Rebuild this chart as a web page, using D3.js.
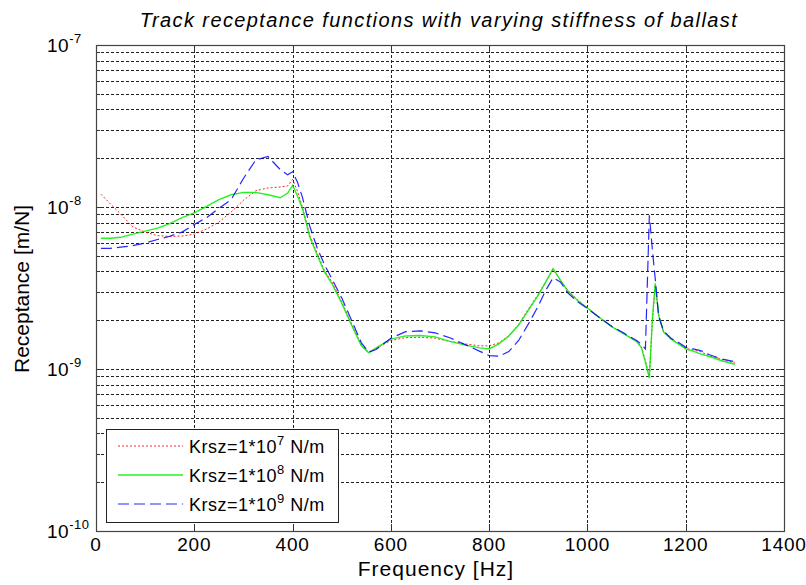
<!DOCTYPE html>
<html>
<head>
<meta charset="utf-8">
<script src="https://cdn.jsdelivr.net/npm/d3@7"></script>
<style>
	body { margin: 0; background: #fff; }
	text { font-family: Arial, "Liberation Sans", sans-serif; fill: #000; }
</style>
</head>
<body>
<div id="chart"></div>
<script>
// frequency points [Hz] shared by the three curves
var freq = [10, 30, 50, 75, 100, 125, 150, 175, 200, 225, 250, 275, 300, 325, 350, 375, 390, 400,
	410, 420, 435, 450, 465, 480, 500, 520, 540, 555, 570,
	600, 630, 660, 690, 720, 750, 780,
	800, 820, 840, 860, 880, 900, 915, 930, 945, 960, 980, 1000,
	1025, 1050, 1075, 1100, 1110, 1118, 1126, 1132, 1138, 1145, 1155, 1170, 1185, 1200,
	1215, 1230, 1250, 1275, 1300];

// Krsz = 1e7 N/m
var recK7 = [1.20e-8, 1.04e-8, 9.06e-9, 7.53e-9, 7.0e-9, 6.66e-9, 6.58e-9, 6.62e-9, 6.8e-9, 7.31e-9, 8.07e-9, 9.31e-9, 1.10e-8, 1.26e-8, 1.31e-8, 1.33e-8, 1.35e-8, 1.48e-8,
	1.25e-8, 1.0e-8, 6.7e-9, 5.2e-9, 4.05e-9, 3.45e-9, 2.6e-9, 1.9e-9, 1.41e-9, 1.27e-9, 1.34e-9,
	1.5e-9, 1.56e-9, 1.57e-9, 1.55e-9, 1.48e-9, 1.43e-9, 1.39e-9,
	1.39e-9, 1.45e-9, 1.6e-9, 1.88e-9, 2.35e-9, 2.9e-9, 3.45e-9, 4.1e-9, 3.55e-9, 3.05e-9, 2.67e-9, 2.39e-9,
	2.08e-9, 1.82e-9, 1.64e-9, 1.48e-9, 1.36e-9, 1.12e-9, 9.0e-10, 1.95e-9, 3.3e-9, 2.15e-9, 1.7e-9, 1.54e-9, 1.44e-9, 1.34e-9,
	1.31e-9, 1.28e-9, 1.2e-9, 1.14e-9, 1.09e-9];

// Krsz = 1e8 N/m
var recK8 = [6.41e-9, 6.41e-9, 6.5e-9, 6.8e-9, 7.1e-9, 7.4e-9, 7.9e-9, 8.6e-9, 9.2e-9, 1.01e-8, 1.11e-8, 1.19e-8, 1.23e-8, 1.23e-8, 1.19e-8, 1.14e-8, 1.22e-8, 1.36e-8,
	1.17e-8, 9.8e-9, 6.53e-9, 5.06e-9, 3.97e-9, 3.37e-9, 2.55e-9, 1.87e-9, 1.39e-9, 1.26e-9, 1.35e-9,
	1.53e-9, 1.60e-9, 1.61e-9, 1.58e-9, 1.48e-9, 1.41e-9, 1.35e-9,
	1.33e-9, 1.43e-9, 1.60e-9, 1.87e-9, 2.31e-9, 2.86e-9, 3.44e-9, 4.17e-9, 3.54e-9, 3.03e-9, 2.65e-9, 2.38e-9,
	2.07e-9, 1.82e-9, 1.64e-9, 1.48e-9, 1.35e-9, 1.10e-9, 8.8e-10, 2.0e-9, 3.38e-9, 2.15e-9, 1.69e-9, 1.53e-9, 1.43e-9, 1.33e-9,
	1.29e-9, 1.24e-9, 1.19e-9, 1.12e-9, 1.07e-9];

// Krsz = 1e9 N/m
var recK9 = [5.56e-9, 5.56e-9, 5.65e-9, 5.77e-9, 6.0e-9, 6.3e-9, 6.6e-9, 7.0e-9, 7.8e-9, 8.6e-9, 9.8e-9, 1.11e-8, 1.5e-8, 1.95e-8, 2.05e-8, 1.7e-8, 1.58e-8, 1.65e-8,
	1.42e-8, 1.15e-8, 7.6e-9, 5.6e-9, 4.4e-9, 3.6e-9, 2.75e-9, 2.0e-9, 1.45e-9, 1.27e-9, 1.32e-9,
	1.55e-9, 1.70e-9, 1.72e-9, 1.67e-9, 1.56e-9, 1.42e-9, 1.29e-9,
	1.21e-9, 1.20e-9, 1.28e-9, 1.5e-9, 1.9e-9, 2.45e-9, 3.05e-9, 3.65e-9, 3.45e-9, 2.95e-9, 2.6e-9, 2.36e-9,
	2.07e-9, 1.83e-9, 1.66e-9, 1.50e-9, 1.42e-9, 1.33e-9, 8.9e-9, 5.5e-9, 3.6e-9, 2.1e-9, 1.72e-9, 1.55e-9, 1.46e-9, 1.36e-9,
	1.33e-9, 1.30e-9, 1.22e-9, 1.15e-9, 1.11e-9];

var xTicks = [0, 200, 400, 600, 800, 1000, 1200, 1400];
var yExponents = [-10, -9, -8, -7];
var legendExps = ["7", "8", "9"];

var W = 806, H = 585;
var margin = {top: 45, right: 22, bottom: 54, left: 96};
var plotW = W - margin.left - margin.right;
var plotH = H - margin.top - margin.bottom;

var svg = d3.select("#chart").append("svg")
	.attr("width", W)
	.attr("height", H);

var x = d3.scaleLinear().domain([0, 1400]).range([0, plotW]);
var y = d3.scaleLog().domain([1e-10, 1e-7]).range([plotH, 0]);

var g = svg.append("g").attr("transform", "translate(" + margin.left + "," + margin.top + ")");

// every minor and major decade value, for grid and ticks
var yMinor = [];
for (var e = -10; e < -7; ++e) {
	for (var m = 1; m < 10; ++m) yMinor.push(m * Math.pow(10, e));
}
yMinor.push(1e-7);

// grid (dotted, like matlab "grid on" with minor grid)
var grid = g.append("g").attr("class", "grid");
yMinor.forEach(function(v) {
	if (v === 1e-10 || v === 1e-7) return;
	grid.append("line")
		.attr("x1", 0).attr("x2", plotW)
		.attr("y1", Math.round(y(v)) + 0.5).attr("y2", Math.round(y(v)) + 0.5)
		.attr("stroke", "#222")
		.attr("stroke-width", 1)
		.attr("stroke-dasharray", "3,2");
});
xTicks.forEach(function(t) {
	if (t === 0 || t === 1400) return;
	grid.append("line")
		.attr("x1", Math.round(x(t)) + 0.5).attr("x2", Math.round(x(t)) + 0.5)
		.attr("y1", 0).attr("y2", plotH)
		.attr("stroke", "#222")
		.attr("stroke-width", 1)
		.attr("stroke-dasharray", "3,2");
});

// inward ticks on all four sides
var ticks = g.append("g").attr("stroke", "#333").attr("stroke-width", 1);
yMinor.forEach(function(v) {
	var isMajor = Math.abs(Math.log10(v) - Math.round(Math.log10(v))) < 1e-9;
	var len = isMajor ? 7 : 4;
	var yy = Math.round(y(v)) + 0.5;
	ticks.append("line").attr("x1", 0).attr("x2", len).attr("y1", yy).attr("y2", yy);
	ticks.append("line").attr("x1", plotW - len).attr("x2", plotW).attr("y1", yy).attr("y2", yy);
});
xTicks.forEach(function(t) {
	var xx = Math.round(x(t)) + 0.5;
	ticks.append("line").attr("x1", xx).attr("x2", xx).attr("y1", plotH).attr("y2", plotH - 7);
	ticks.append("line").attr("x1", xx).attr("x2", xx).attr("y1", 0).attr("y2", 7);
});

// curves
var line = d3.line()
	.x(function(d) { return x(d[0]); })
	.y(function(d) { return y(d[1]); });

var series = [
	{values: recK7, color: "#ff0000", dash: "2,2", width: 1},
	{values: recK8, color: "#00ee00", dash: null, width: 1.4},
	{values: recK9, color: "#0000ff", dash: "11,5", width: 1.2}
];

svg.append("clipPath").attr("id", "clip")
	.append("rect").attr("width", plotW).attr("height", plotH);

var curves = g.append("g").attr("clip-path", "url(#clip)");
series.forEach(function(s) {
	curves.append("path")
		.datum(freq.map(function(f, i) { return [f, s.values[i]]; }))
		.attr("d", line)
		.attr("fill", "none")
		.attr("stroke", s.color)
		.attr("stroke-width", s.width)
		.attr("stroke-dasharray", s.dash)
		.attr("stroke-opacity", 0.85);
});

// frame
g.append("rect")
	.attr("x", 0.5).attr("y", 0.5)
	.attr("width", plotW).attr("height", plotH)
	.attr("fill", "none")
	.attr("stroke", "#444")
	.attr("stroke-width", 1.2);

// x tick labels
xTicks.forEach(function(t) {
	g.append("text")
		.attr("x", x(t))
		.attr("y", plotH + 20)
		.attr("text-anchor", "middle")
		.attr("font-size", 19)
		.attr("letter-spacing", 0.8)
		.text(t);
});

// y tick labels, 10^n
yExponents.forEach(function(ex) {
	var lab = svg.append("text")
		.attr("x", 47)
		.attr("y", margin.top + y(Math.pow(10, ex)) + 7)
		.attr("font-size", 19)
		.attr("letter-spacing", 0.5);
	lab.append("tspan").text("10");
	lab.append("tspan")
		.attr("dy", -9)
		.attr("font-size", 13)
		.text(ex);
});

// axis titles
svg.append("text")
	.attr("x", 436)
	.attr("y", 576)
	.attr("text-anchor", "middle")
	.attr("font-size", 21)
	.attr("letter-spacing", 1)
	.text("Frequency [Hz]");

svg.append("text")
	.attr("transform", "translate(29," + 289 + ") rotate(-90)")
	.attr("text-anchor", "middle")
	.attr("font-size", 21)
	.text("Receptance [m/N]");

svg.append("text")
	.attr("x", 439)
	.attr("y", 27)
	.attr("text-anchor", "middle")
	.attr("font-size", 20)
	.attr("font-style", "italic")
	.attr("letter-spacing", 1.4)
	.text("Track receptance functions with varying stiffness of ballast");

// legend
var lg = svg.append("g").attr("transform", "translate(106,429)");
lg.append("rect")
	.attr("x", 0.5).attr("y", 0.5)
	.attr("width", 232).attr("height", 93)
	.attr("fill", "#fff")
	.attr("stroke", "#222")
	.attr("stroke-width", 1);

series.forEach(function(s, i) {
	var ly = 17 + i * 29;
	lg.append("line")
		.attr("x1", 12).attr("x2", 77)
		.attr("y1", ly).attr("y2", ly)
		.attr("stroke", s.color)
		.attr("stroke-width", s.width)
		.attr("stroke-dasharray", s.dash)
		.attr("stroke-opacity", 0.85);
	var t = lg.append("text")
		.attr("x", 83)
		.attr("y", ly + 7)
		.attr("font-size", 18)
		.attr("letter-spacing", 0.5);
	t.append("tspan").text("Krsz=1*10");
	t.append("tspan").attr("dy", -8).attr("font-size", 13).text(legendExps[i]);
	t.append("tspan").attr("dy", 8).text(" N/m");
});
</script>
</body>
</html>
